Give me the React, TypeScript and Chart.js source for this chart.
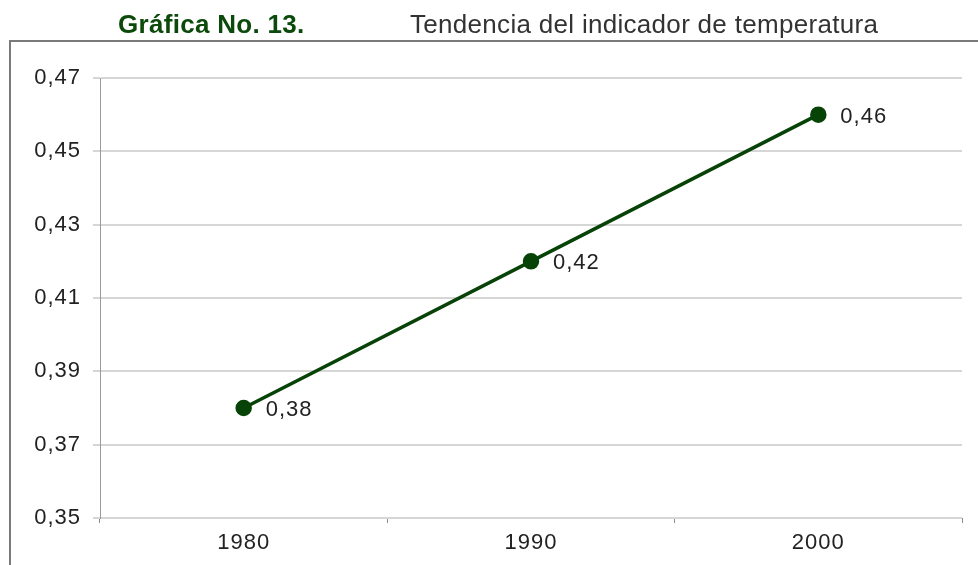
import React, { useEffect, useRef } from "react";
import { Chart, registerables } from "chart.js";

Chart.register(...registerables);

const categories = ["1980", "1990", "2000"];
const values = [0.38, 0.42, 0.46];
const yMin = 0.35;
const yMax = 0.47;
const yStep = 0.02;
const titleBold = "Gráfica No. 13.";
const titleRest = "Tendencia del indicador de temperatura";

const FONT = "'Liberation Sans', Arial, sans-serif";
const GREEN = "#074207";

const fmt = (v: number) => v.toFixed(2).replace(".", ",");

const framePlugin = {
  id: "frameTitle",
  beforeDraw(chart: any) {
    const ctx = chart.ctx;
    ctx.letterSpacing = "1px";
    ctx.save();
    ctx.fillStyle = "#ffffff";
    ctx.fillRect(0, 0, chart.width, chart.height);
    ctx.strokeStyle = "#7a7a7a";
    ctx.lineWidth = 2;
    ctx.beginPath();
    ctx.moveTo(10, chart.height + 10);
    ctx.lineTo(10, 41);
    ctx.lineTo(chart.width + 10, 41);
    ctx.stroke();
    ctx.textBaseline = "alphabetic";
    ctx.textAlign = "left";
    ctx.letterSpacing = "0.3px";
    ctx.font = `bold 26px ${FONT}`;
    ctx.fillStyle = "#0b4a0b";
    ctx.fillText(titleBold, 118, 33);
    ctx.font = `26px ${FONT}`;
    ctx.fillStyle = "#333333";
    ctx.fillText(titleRest, 410, 33);
    ctx.restore();
  },
};

const labelPlugin = {
  id: "pointLabels",
  afterDatasetsDraw(chart: any) {
    const ctx = chart.ctx;
    const meta = chart.getDatasetMeta(0);
    const data = chart.data.datasets[0].data as number[];
    ctx.save();
    ctx.letterSpacing = "1px";
    ctx.font = `22px ${FONT}`;
    ctx.fillStyle = "#222222";
    ctx.textAlign = "left";
    ctx.textBaseline = "middle";
    meta.data.forEach((el: any, i: number) => {
      ctx.fillText(fmt(data[i]), el.x + 22, el.y + 2);
    });
    ctx.restore();
  },
};

export default function App() {
  const ref = useRef<HTMLCanvasElement | null>(null);
  useEffect(() => {
    document.body.style.margin = "0";
    const canvas = ref.current!;
    const chart = new Chart(canvas, {
      type: "line",
      data: {
        labels: categories,
        datasets: [
          {
            data: values,
            borderColor: GREEN,
            backgroundColor: GREEN,
            borderWidth: 3.5,
            pointRadius: 6.5,
            pointBackgroundColor: GREEN,
            pointBorderColor: GREEN,
            tension: 0,
          },
        ],
      },
      options: {
        responsive: false,
        animation: false,
        devicePixelRatio: 1,
        layout: { padding: { top: 78, right: 16, left: 0, bottom: 0 } },
        plugins: {
          legend: { display: false },
          title: { display: false },
          tooltip: { enabled: false },
        },
        scales: {
          x: {
            type: "category",
            offset: true,
            afterFit: (s: any) => {
              s.height = 47;
            },
            grid: {
              offset: true,
              drawOnChartArea: false,
              drawTicks: true,
              tickLength: 5,
              color: "#8a8a8a",
              lineWidth: 1,
            },
            border: { display: false },
            ticks: {
              color: "#222222",
              font: { family: FONT, size: 22 },
              padding: 7,
              maxRotation: 0,
            },
          },
          y: {
            min: yMin,
            max: yMax,
            afterFit: (s: any) => {
              s.width = 100;
            },
            grid: {
              color: "#d6d6d6",
              lineWidth: 2,
              drawTicks: true,
              tickLength: 7,
            },
            border: { display: true, color: "#9a9a9a", width: 1 },
            ticks: {
              stepSize: yStep,
              color: "#222222",
              font: { family: FONT, size: 22 },
              padding: 12,
              callback: (v: any) => fmt(Number(v)),
            },
          },
        },
      },
      plugins: [framePlugin, labelPlugin],
    });
    return () => chart.destroy();
  }, []);
  return (
    <div style={{ width: 978, height: 565 }}>
      <canvas ref={ref} width={978} height={565} style={{ display: "block" }} />
    </div>
  );
}
